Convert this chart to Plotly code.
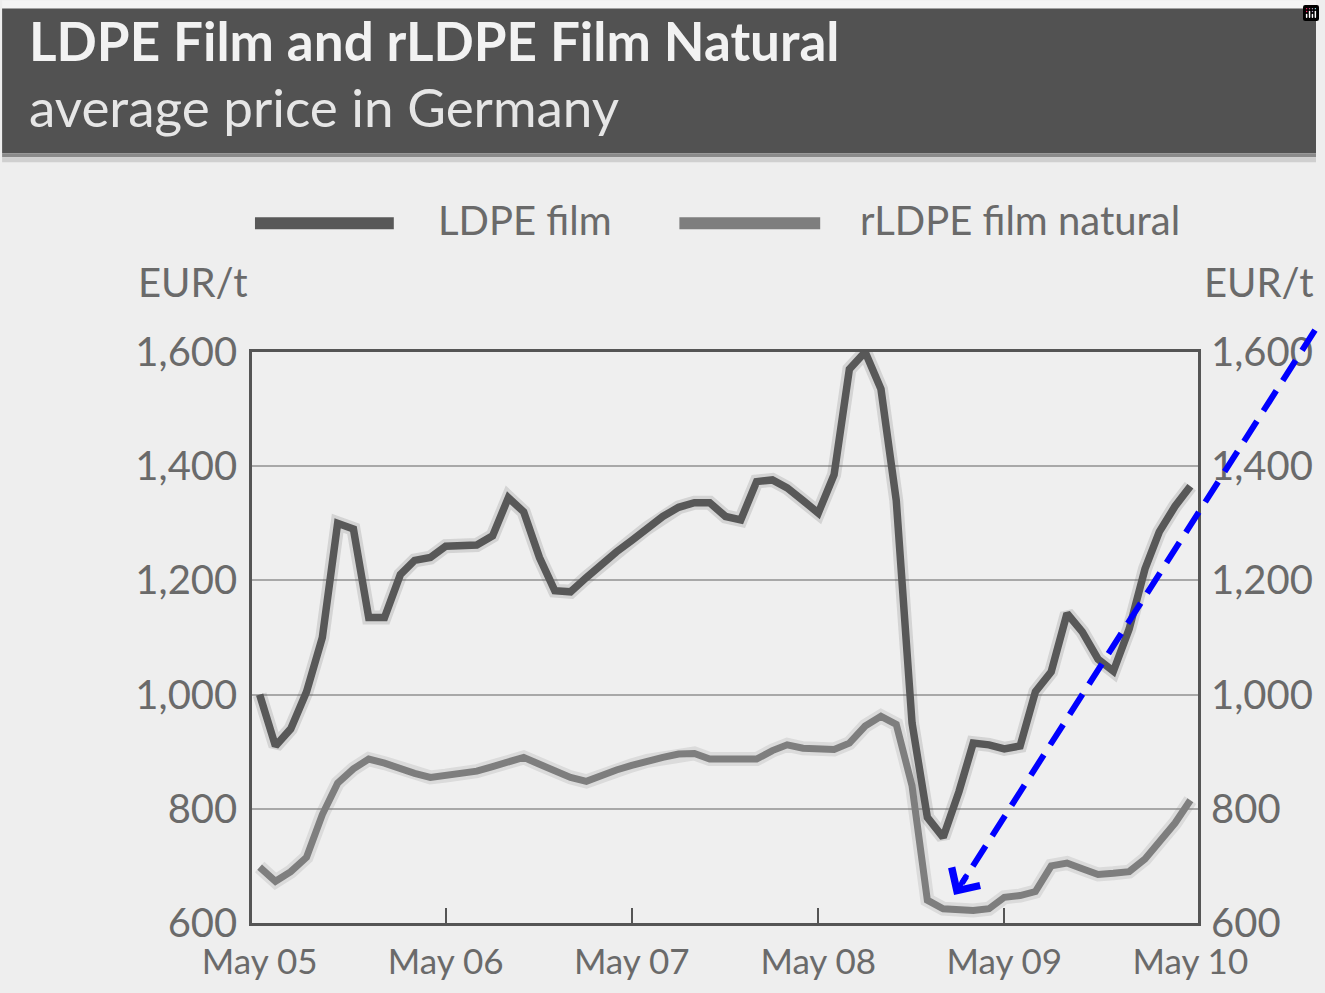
import plotly.graph_objects as go
import pandas as pd

# ---------------- data ----------------
months = pd.date_range("2005-05-01", "2010-05-01", freq="MS")

ldpe_film = [1000, 910, 940, 1005, 1100, 1300, 1290, 1135, 1135, 1210,
             1235, 1240, 1260, 1260, 1262, 1278, 1345, 1320, 1240, 1182,
             1180, 1205, 1228, 1250, 1270, 1292, 1312, 1328, 1336, 1336,
             1312, 1306, 1373, 1376, 1362, 1340, 1318, 1385, 1570, 1600,
             1535, 1340, 950, 785, 750, 830, 915, 912, 905, 910,
             1005, 1040, 1142, 1110, 1062, 1041, 1115, 1220, 1285, 1330,
             1365]

rldpe_natural = [698, 673, 690, 715, 790, 845, 870, 887, 880, 870,
                 862, 855, 858, 860, 866, 874, 882, 890, 878, 866,
                 855, 848, 858, 868, 876, 884, 890, 896, 897, 887,
                 886, 886, 887, 902, 912, 906, 904, 904, 915, 945,
                 962, 948, 840, 640, 625, 622, 622, 625, 645, 648,
                 655, 700, 705, 695, 685, 687, 690, 712, 740, 775,
                 815]

tick_dates = ["2005-05-01", "2006-05-01", "2007-05-01", "2008-05-01", "2009-05-01", "2010-05-01"]
tick_labels = ["May 05", "May 06", "May 07", "May 08", "May 09", "May 10"]
y_ticks = [600, 800, 1000, 1200, 1400, 1600]
y_labels = ["600", "800", "1,000", "1,200", "1,400", "1,600"]

series_names = ["LDPE film", "rLDPE film natural"]
title = "LDPE Film and rLDPE Film Natural"
subtitle = "average price in Germany"
unit = "EUR/t"

# ---------------- style ----------------
W, H = 1325, 993
L, R, T, B = 252, 1206, 352, 924
FONT = "Lato"
C_LDPE = "#585858"
C_RLDPE = "#7e7e7e"
TXT = "#6a6a6a"


def px(x):
    return (x - L) / (R - L)


def py(y):
    return (B - y) / (B - T)


fig = go.Figure()

# soft scan halo
fig.add_trace(go.Scatter(x=months, y=rldpe_natural, mode="lines",
                         line=dict(color="rgba(125,125,125,0.18)", width=14),
                         hoverinfo="skip", showlegend=False))
fig.add_trace(go.Scatter(x=months, y=ldpe_film, mode="lines",
                         line=dict(color="rgba(90,90,90,0.18)", width=14),
                         hoverinfo="skip", showlegend=False))
fig.add_trace(go.Scatter(x=months, y=rldpe_natural, mode="lines", name=series_names[1],
                         line=dict(color=C_RLDPE, width=7), showlegend=False))
fig.add_trace(go.Scatter(x=months, y=ldpe_film, mode="lines", name=series_names[0],
                         line=dict(color=C_LDPE, width=7.5), showlegend=False))
# invisible trace to activate right axis
fig.add_trace(go.Scatter(x=months, y=ldpe_film, yaxis="y2", mode="lines",
                         line=dict(width=0), opacity=0, hoverinfo="skip", showlegend=False))

axis_font = dict(family=FONT, size=40, color=TXT)

fig.update_layout(
    width=W, height=H,
    margin=dict(l=L, r=W - R, t=T, b=H - B),
    paper_bgcolor="#eeeeee",
    plot_bgcolor="#efefef",
    modebar=dict(bgcolor="rgba(0,0,0,0)", color="rgba(0,0,0,0)",
                 activecolor="rgba(0,0,0,0)"),
    xaxis=dict(
        type="date",
        range=["2005-04-16", "2010-05-16"],
        tickvals=tick_dates, ticktext=tick_labels,
        ticks="", showgrid=False,
        showline=True, linecolor="#555555", linewidth=2.5, mirror=True,
        tickfont=dict(family=FONT, size=35, color=TXT),
        ticklabelstandoff=6,
        minor=dict(tickvals=tick_dates[1:5], ticks="inside", ticklen=15,
                   tickwidth=2, tickcolor="#555555", showgrid=False),
        zeroline=False,
    ),
    yaxis=dict(
        range=[600, 1600], tickvals=y_ticks, ticktext=y_labels,
        showgrid=True, gridcolor="#a8a8a8", gridwidth=2,
        showline=True, linecolor="#555555", linewidth=2.5, mirror=True,
        ticks="", tickfont=axis_font, ticklabelstandoff=4, zeroline=False,
    ),
    yaxis2=dict(
        range=[600, 1600], tickvals=y_ticks, ticktext=y_labels,
        overlaying="y", side="right", showgrid=False,
        ticks="", tickfont=axis_font, ticklabelstandoff=12, zeroline=False,
    ),
    showlegend=False,
)

shapes = []
annotations = []

# header band
shapes.append(dict(type="rect", xref="paper", yref="paper",
                   x0=px(0), x1=px(W), y0=py(8), y1=py(0),
                   fillcolor="#f4f4f4", line=dict(width=0), layer="below"))
shapes.append(dict(type="rect", xref="paper", yref="paper",
                   x0=px(0), x1=px(W), y0=py(153), y1=py(8),
                   fillcolor="#525252", line=dict(width=0), layer="below"))
shapes.append(dict(type="rect", xref="paper", yref="paper",
                   x0=px(0), x1=px(W), y0=py(157), y1=py(153),
                   fillcolor="#8a8a8a", line=dict(width=0), layer="below"))
shapes.append(dict(type="rect", xref="paper", yref="paper",
                   x0=px(0), x1=px(W), y0=py(162), y1=py(157),
                   fillcolor="#cfcfcf", line=dict(width=0), layer="below"))
annotations.append(dict(text="<b>" + title + "</b>", xref="paper", yref="paper",
                        x=px(25), y=py(40), xanchor="left", yanchor="middle",
                        showarrow=False, font=dict(family=FONT, size=53, color="#f2f2f2")))
annotations.append(dict(text=subtitle, xref="paper", yref="paper",
                        x=px(25), y=py(106), xanchor="left", yanchor="middle",
                        showarrow=False, font=dict(family=FONT, size=53, color="#e6e6e6")))

# legend
shapes.append(dict(type="line", xref="paper", yref="paper",
                   x0=px(255), x1=px(395), y0=py(223), y1=py(223),
                   line=dict(color=C_LDPE, width=12)))
shapes.append(dict(type="line", xref="paper", yref="paper",
                   x0=px(683), x1=px(825), y0=py(223), y1=py(223),
                   line=dict(color=C_RLDPE, width=12)))
annotations.append(dict(text=series_names[0], xref="paper", yref="paper",
                        x=px(438), y=py(220), xanchor="left", yanchor="middle",
                        showarrow=False, font=dict(family=FONT, size=40, color=TXT)))
annotations.append(dict(text=series_names[1], xref="paper", yref="paper",
                        x=px(863), y=py(220), xanchor="left", yanchor="middle",
                        showarrow=False, font=dict(family=FONT, size=40, color=TXT)))

# units
annotations.append(dict(text=unit, xref="paper", yref="paper",
                        x=px(250), y=py(282), xanchor="right", yanchor="middle",
                        showarrow=False, font=dict(family=FONT, size=40, color=TXT)))
annotations.append(dict(text=unit, xref="paper", yref="paper",
                        x=px(1210), y=py(282), xanchor="left", yanchor="middle",
                        showarrow=False, font=dict(family=FONT, size=40, color=TXT)))

# blue dashed arrow overlay
tip_x, tip_y = 960, 896
tail_x, tail_y = 1324, 330
shapes.append(dict(type="line", xref="paper", yref="paper",
                   x0=px(tail_x), y0=py(tail_y), x1=px(tip_x + 8), y1=py(tip_y - 12),
                   line=dict(color="#0000ff", width=6, dash="24px,12px")))
annotations.append(dict(text="", xref="paper", yref="paper",
                        x=px(tip_x), y=py(tip_y), ax=14, ay=-22,
                        showarrow=True, arrowhead=4, arrowsize=1.3,
                        arrowwidth=5, arrowcolor="#0000ff"))

fig.update_layout(shapes=shapes, annotations=annotations)

post = (
    "document.documentElement.style.overflow='hidden';"
    "document.body.style.overflow='hidden';"
    "document.body.style.margin='0';"
    "document.body.style.background='#eeeeee';"
)

fig.write_html("out.html", post_script=post)
